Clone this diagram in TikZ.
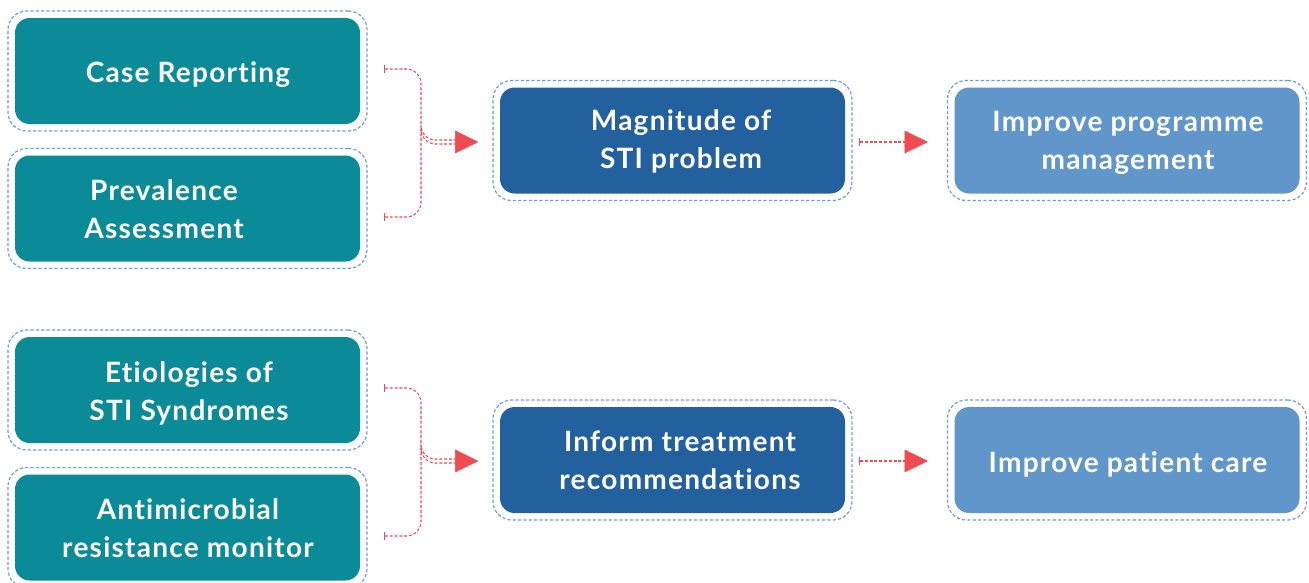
\documentclass[tikz,border=0pt]{standalone}
\usepackage{fontspec}
\setmainfont{Lato}[LetterSpace=4.5, Ligatures={NoCommon,NoContextual}]
\usetikzlibrary{arrows.meta,calc}
\definecolor{tealbox}{HTML}{0B8A97}
\definecolor{navybox}{HTML}{22609E}
\definecolor{skybox}{HTML}{6096C9}
\definecolor{halocol}{HTML}{6E9DD6}
\definecolor{linkred}{HTML}{EE4B52}
\tikzset{
  card/.style={rounded corners=11pt, minimum width=258.75pt, minimum height=79.5pt,
    inner sep=0pt},
  cardtext/.style={text=white, align=center, inner sep=0pt,
    font=\bfseries\fontsize{21}{28.5}\selectfont},
  halo/.style={draw=halocol, line width=0.9pt, dash pattern=on 2.4pt off 1.6pt,
    rounded corners=14pt, minimum width=269.25pt, minimum height=90pt, inner sep=0pt},
  link/.style={draw=linkred, line width=0.8pt, dash pattern=on 2.2pt off 1.4pt,
    rounded corners=11pt},
  starttick/.style={{Bar[width=6pt,line width=1.4pt]}-},
  bigtip/.style={-{Triangle[length=17.5pt,width=17pt]}},
}
\begin{document}
\begin{tikzpicture}[x=0.75pt,y=-0.75pt]
\useasboundingbox[fill=white] (0,0) rectangle (1309,582);

% left column: data sources
\node[halo] (casehalo) at (187.5,71) {};
\node[card, fill=tealbox] (case) at (187.5,71) {};
\node[cardtext] (casetxt) at (188,75) {Case Reporting};
\node[halo] (prevhalo) at (187.5,208.5) {};
\node[card, fill=tealbox] (prev) at (187.5,208.5) {};
\node[cardtext] (prevtxt) at (164,209) {Prevalence\\Assessment};

\node[halo] (etiohalo) at (187.5,390) {};
\node[card, fill=tealbox] (etio) at (187.5,390) {};
\node[cardtext] (etiotxt) at (189,393) {Etiologies of\\STI Syndromes};
\node[halo] (antihalo) at (187.5,527.5) {};
\node[card, fill=tealbox] (anti) at (187.5,527.5) {};
\node[cardtext] (antitxt) at (188,528) {Antimicrobial\\resistance monitor};

% middle column
\node[halo] (maghalo) at (672.5,140.5) {};
\node[card, fill=navybox] (mag) at (672.5,140.5) {};
\node[cardtext] (magtxt) at (681,141) {Magnitude of\\STI problem};
\node[halo] (infohalo) at (672.5,460) {};
\node[card, fill=navybox] (info) at (672.5,460) {};
\node[cardtext] (infotxt) at (680,460) {Inform treatment\\recommendations};

% right column
\node[halo] (proghalo) at (1127,140.5) {};
\node[card, fill=skybox] (prog) at (1127,140.5) {};
\node[cardtext] (progtxt) at (1128,143) {Improve programme\\management};
\node[halo] (carehalo) at (1127,460) {};
\node[card, fill=skybox] (care) at (1127,460) {};
\node[cardtext] (caretxt) at (1128,464) {Improve patient care};

% merge points in front of the middle column
\coordinate (j1) at (456,142);
\coordinate (j2) at (456,461);

% upper pair merging into the magnitude box
\draw[link, starttick] ($(casehalo.east)+(16,-2)$) -| ($(j1)+(-35,-2)$) |- ($(j1)+(0,-2)$);
\draw[link, starttick] ($(prevhalo.east)+(16,8.5)$) -| ($(j1)+(-35,2)$) |- ($(j1)+(0,2)$);
\draw[draw=linkred, fill=linkred, bigtip] (j1) -- ($(maghalo.west)+(-14,1.5)$);

% lower pair merging into the treatment box
\draw[link, starttick] ($(etiohalo.east)+(16,-2)$) -| ($(j2)+(-35,-2)$) |- ($(j2)+(0,-2)$);
\draw[link, starttick] ($(antihalo.east)+(16,8.5)$) -| ($(j2)+(-35,2)$) |- ($(j2)+(0,2)$);
\draw[draw=linkred, fill=linkred, bigtip] (j2) -- ($(infohalo.west)+(-14,1)$);

% middle to right
\draw[link, starttick, rounded corners=0pt] ($(maghalo.east)+(6,1.5)$) -- (905,142);
\draw[draw=linkred, fill=linkred, bigtip] (905,142) -- ($(proghalo.west)+(-19,1.5)$);
\draw[link, starttick, rounded corners=0pt] ($(infohalo.east)+(6,1)$) -- (905,461);
\draw[draw=linkred, fill=linkred, bigtip] (905,461) -- ($(carehalo.west)+(-19,1)$);
\end{tikzpicture}
\end{document}
